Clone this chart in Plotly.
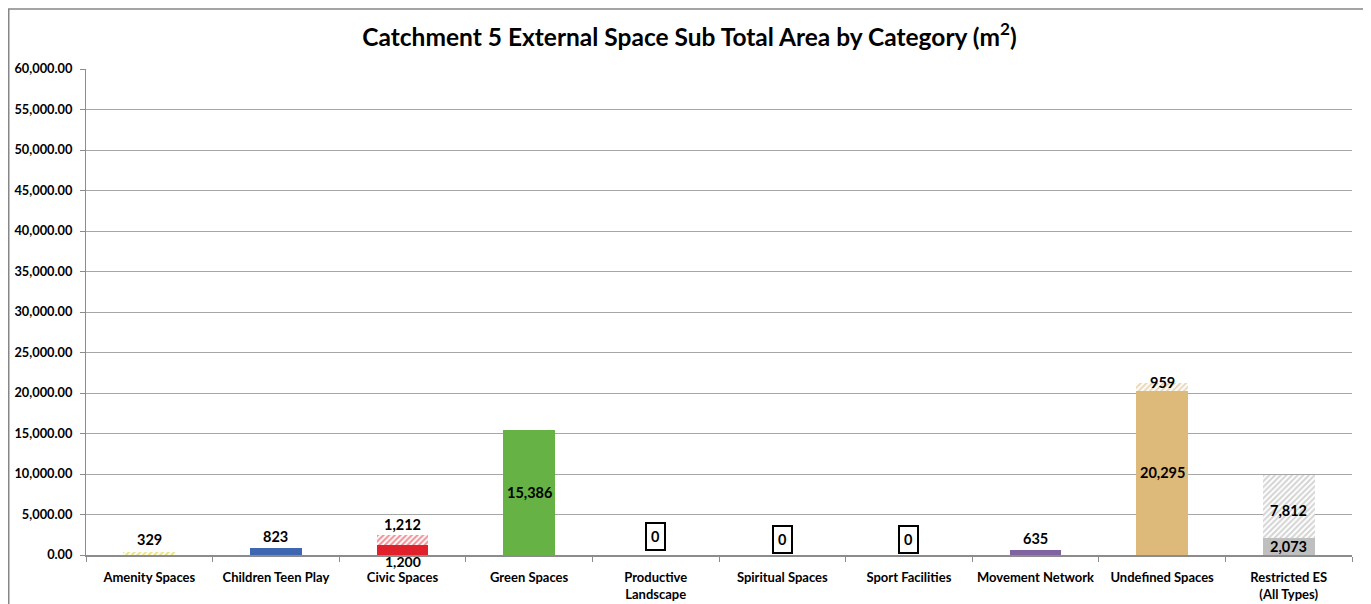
import plotly.graph_objects as go

categories = ["Amenity Spaces", "Children Teen Play", "Civic Spaces", "Green Spaces",
              "Productive<br>Landscape", "Spiritual Spaces", "Sport Facilities",
              "Movement Network", "Undefined Spaces", "Restricted ES<br>(All Types)"]
solid_vals = [0, 823, 1200, 15386, 0, 0, 0, 635, 20295, 2073]
hatched_vals = [329, 0, 1212, 0, 0, 0, 0, 0, 959, 7812]
solid_colors = ["#E8D300", "#3F67B1", "#E0202A", "#66B245", "#FFFFFF", "#FFFFFF",
                "#FFFFFF", "#8064A2", "#DDB97A", "#BFBFBF"]
hatch_colors = ["#D8C400", "#3F67B1", "#E0202A", "#66B245", "#FFFFFF", "#FFFFFF",
                "#FFFFFF", "#8064A2", "#D4AE6E", "#A8A8A8"]
y_ticks = list(range(0, 60001, 5000))

FONT = "Lato"
# page body has an 8px margin; compensate so the plot area lands where the reference has it
W, H = 1363, 596
L, R, T, B = 78, 19, 61, 49
PW, PH = W - L - R, H - T - B

fig = go.Figure()
fig.add_trace(go.Bar(x=categories, y=solid_vals, marker=dict(color=solid_colors, line_width=0),
                     width=0.41, hoverinfo="skip"))
fig.add_trace(go.Bar(x=categories, y=hatched_vals,
                     marker=dict(color="#FFFFFF", line_width=0,
                                 pattern=dict(shape="/", fgcolor=hatch_colors, bgcolor="#FFFFFF",
                                              size=4, solidity=0.5)),
                     width=0.41, hoverinfo="skip"))

ann = []
def add(x, y, txt, yshift=0, yanchor="middle", box=False, size=14.5):
    d = dict(x=x, y=y, text=f"<b>{txt}</b>", showarrow=False, yshift=yshift, yanchor=yanchor,
             font=dict(family=FONT, size=size, color="black"))
    if box:
        d.update(bordercolor="black", borderwidth=2, borderpad=4, bgcolor="white")
    ann.append(d)

for i, c in enumerate(categories):
    s, h = solid_vals[i], hatched_vals[i]
    if s == 0 and h == 0:
        add(c, 0, "0", yshift=1 if i != 4 else 4, yanchor="bottom", box=True)
    elif i == 0:
        add(c, s + h, f"{h:,}", yshift=2, yanchor="bottom")
    elif i in (1, 7):
        add(c, s, f"{s:,}", yshift=1, yanchor="bottom")
    elif i == 2:
        add(c, s + h, f"{h:,}", yshift=0, yanchor="bottom")
        add(c, 0, f"{s:,}", yshift=4, yanchor="top", size=14)
    elif i == 3:
        add(c, s / 2, f"{s:,}")
    elif i == 8:
        add(c, s / 2, f"{s:,}")
        add(c, s + h, f"{h:,}")
    elif i == 9:
        add(c, s / 2, f"{s:,}")
        add(c, s + h / 2, f"{h:,}", yshift=-4)

fig.update_layout(
    barmode="stack", showlegend=False,
    width=W, height=H,
    margin=dict(l=L, r=R, t=T, b=B),
    paper_bgcolor="white", plot_bgcolor="white",
    font=dict(family=FONT, color="black"),
    title=dict(text="<b>Catchment 5 External Space Sub Total Area by Category (m<sup>2</sup>)</b>",
               x=0.5, xanchor="center", y=1 - 29 / H, yanchor="middle",
               font=dict(family=FONT, size=24.5, color="black")),
    annotations=ann,
    shapes=[dict(type="rect", xref="paper", yref="paper",
                 x0=(0.75 - L) / PW, x1=(W - 0.75 - L) / PW,
                 y0=-(B + 40) / PH, y1=(PH + T - 1) / PH,
                 line=dict(color="#868686", width=1.5), fillcolor="rgba(0,0,0,0)", layer="below")],
)
fig.update_yaxes(range=[0, 60000], tickvals=y_ticks,
                 ticktext=[f"<b>{v:,.2f}</b>" for v in y_ticks],
                 showgrid=True, gridcolor="#A6A6A6", gridwidth=1,
                 showline=True, linecolor="#8C8C8C", linewidth=1,
                 ticks="outside", ticklen=5, tickcolor="#8C8C8C",
                 ticklabelstandoff=5, automargin=False,
                 tickfont=dict(family=FONT, size=12.8, color="black"),
                 zeroline=False)
fig.update_xaxes(showline=True, linecolor="#8C8C8C", linewidth=1.5,
                 ticks="outside", ticklen=5, tickcolor="#8C8C8C", tickson="boundaries",
                 tickvals=categories, ticktext=[f"<b>{c}</b>" for c in categories],
                 ticklabelstandoff=10, tickangle=0, automargin=False,
                 tickfont=dict(family=FONT, size=13, color="black"))

fig.write_html("out.html")
